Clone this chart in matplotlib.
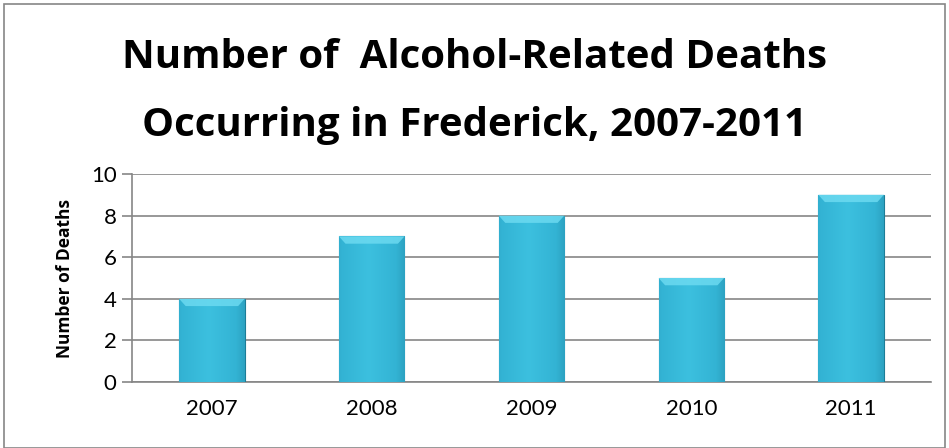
import numpy as np
import matplotlib.pyplot as plt
from matplotlib.patches import Rectangle
from matplotlib.colors import LinearSegmentedColormap

years = ['2007', '2008', '2009', '2010', '2011']
deaths = [4, 7, 8, 5, 9]
y_ticks = [0, 2, 4, 6, 8, 10]

plt.rcParams['font.family'] = ['Lato', 'DejaVu Sans']

W, H = 949, 448
fig = plt.figure(figsize=(W / 100, H / 100), dpi=100)

# marco gris alrededor del grafico
fig.patches.append(Rectangle((4 / W, 0.5 / H), 941 / W, 443 / H, transform=fig.transFigure,
                             fill=False, edgecolor='#868686', linewidth=1.2))

ax = fig.add_axes([132 / W, (H - 382) / H, (931 - 132) / W, (382 - 174) / H])

x = np.arange(len(years))
bars = ax.bar(x, deaths, width=0.41, color='#31aecf', edgecolor='#1d7d97', linewidth=0.8, zorder=3)

# degradado horizontal en cada barra (mas claro al centro)
grad = np.linspace(0, 1, 100)
grad = 1 - np.abs(grad - 0.45) * 1.2
cmap = LinearSegmentedColormap.from_list('barra', ['#1f7f9a', '#33b3d4', '#3cc0df'])
for b in bars:
    x0, w, h = b.get_x(), b.get_width(), b.get_height()
    im = ax.imshow(grad[np.newaxis, :], extent=[x0, x0 + w, 0, h], aspect='auto',
                   cmap=cmap, vmin=0, vmax=1, zorder=3.1)
    im.set_clip_path(b)
    # bisel claro arriba
    ax.fill([x0, x0 + w, x0 + w * 0.9, x0 + w * 0.1], [h, h, h - 0.35, h - 0.35],
            color='#6fdcf2', alpha=0.8, zorder=3.2, linewidth=0)

ax.set_xlim(-0.5, len(years) - 0.5)
ax.set_ylim(0, 10)
ax.set_yticks(y_ticks)
ax.set_xticks(x)
ax.set_xticklabels(years)
ax.yaxis.grid(True, color='#868686', linewidth=1.2, zorder=0)
ax.set_axisbelow(True)
for s in ['top', 'right']:
    ax.spines[s].set_visible(False)
ax.spines['left'].set_color('#868686')
ax.spines['bottom'].set_color('#868686')
ax.spines['left'].set_linewidth(1.2)
ax.spines['bottom'].set_linewidth(1.2)
ax.tick_params(axis='y', length=7, color='#868686', width=1.2, labelsize=16, pad=4)
ax.tick_params(axis='x', length=0, labelsize=16, pad=12)
ax.set_ylabel('Number of Deaths', fontsize=12.5, fontweight='bold', labelpad=12,
              family=['Open Sans', 'DejaVu Sans'])

fig.text(0.5, 1 - 58 / H, 'Number of  Alcohol-Related Deaths', ha='center', va='center',
         fontsize=29, fontweight='bold', family=['Open Sans', 'DejaVu Sans'])
fig.text(0.5, 1 - 125 / H, 'Occurring in Frederick, 2007-2011', ha='center', va='center',
         fontsize=29, fontweight='bold', family=['Open Sans', 'DejaVu Sans'])

fig.savefig('out.png', dpi=100)
